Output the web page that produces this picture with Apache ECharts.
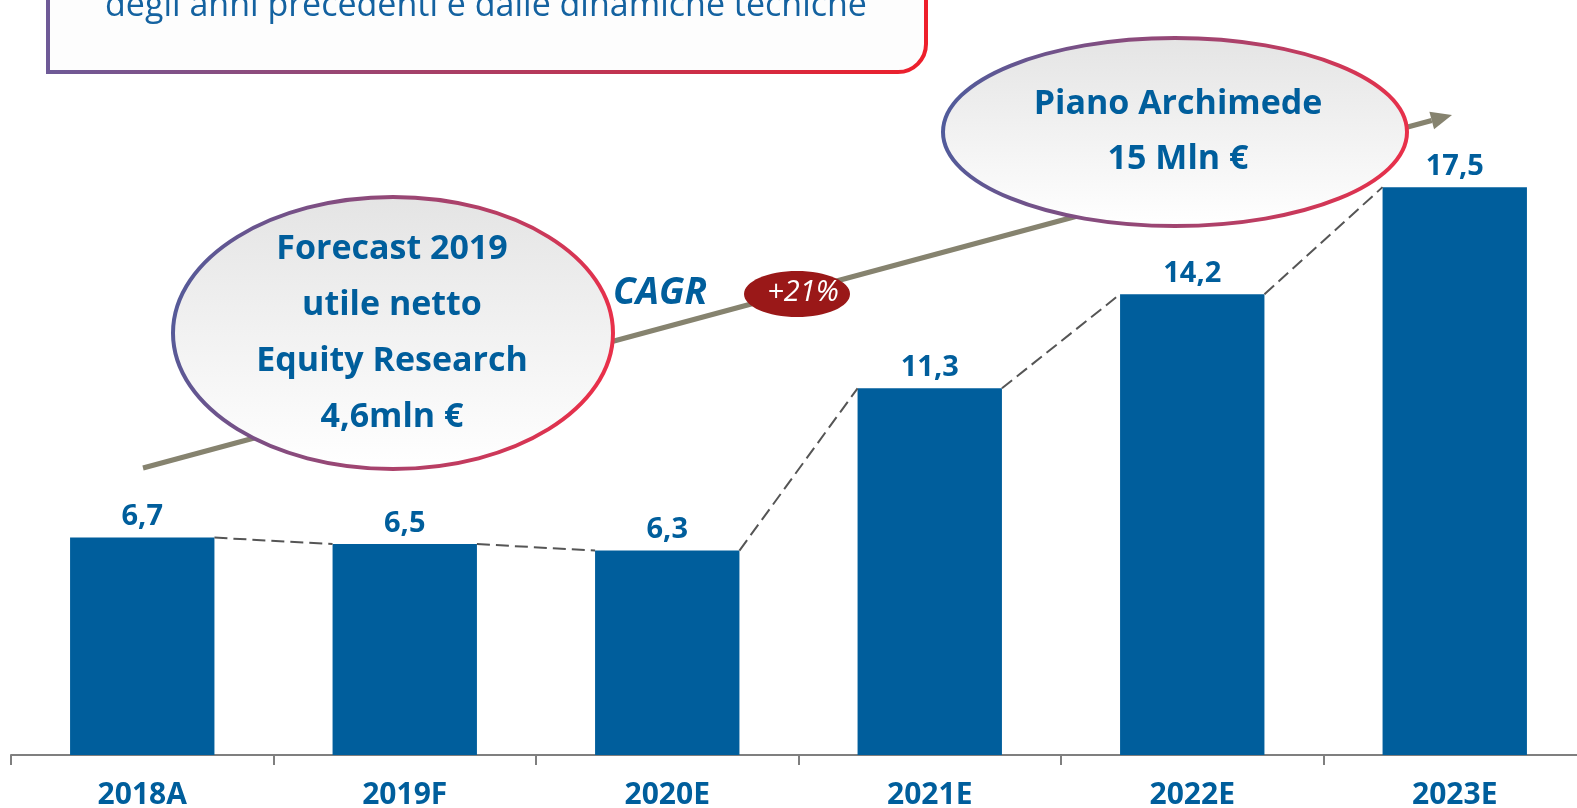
<!DOCTYPE html>
<html><head><meta charset="utf-8">
<script src="https://cdn.jsdelivr.net/npm/echarts@6/dist/echarts.min.js"></script>
<style>html,body{margin:0;padding:0;background:#fff}#c{width:1577px;height:808px}</style>
</head><body><div id="c"></div>
<script>
var categories = ['2018A','2019F','2020E','2021E','2022E','2023E'];
var values = [6.7, 6.5, 6.3, 11.3, 14.2, 17.5];
var valueLabels = ['6,7','6,5','6,3','11,3','14,2','17,5'];

var BLUE = '#005E9C';
var FONT = '"Open Sans","Noto Sans",sans-serif';

var links = [];
for (var i = 0; i < values.length - 1; i++) links.push([i, values[i], i + 1, values[i + 1]]);

var chart = echarts.init(document.getElementById('c'));
var barRatio = 0.55;

function lg(x2, y2, c1, c2) {
  return new echarts.graphic.LinearGradient(0, 0, x2, y2, [{offset: 0, color: c1}, {offset: 1, color: c2}]);
}

// arrow geometry (decoration)
var ax0 = 143, ay0 = 468, ax1 = 1452, ay1 = 115;
var dx = ax1 - ax0, dy = ay1 - ay0, L = Math.sqrt(dx*dx + dy*dy);
var ux = dx / L, uy = dy / L, nx = -uy, ny = ux;
var hl = 21, hw = 9;
var bx = ax1 - hl*ux, by = ay1 - hl*uy;

chart.setOption({
  animation: false,
  grid: {left: 11, width: 1575, top: 106, bottom: 53, outerBoundsMode: 'none', containLabel: false},
  xAxis: {
    type: 'category', data: categories,
    axisLine: {lineStyle: {color: '#7f7f7f', width: 2}},
    axisTick: {show: true, length: 10, lineStyle: {color: '#7f7f7f', width: 2}},
    axisLabel: {color: BLUE, fontWeight: 'bold', fontSize: 30, fontFamily: FONT, margin: 25}
  },
  yAxis: {type: 'value', min: 0, max: 20, show: false, splitLine: {show: false}},
  series: [
    {
      type: 'bar', data: values, barWidth: (barRatio*100) + '%',
      itemStyle: {color: BLUE},
      label: {
        show: true, position: 'top', distance: 6,
        color: BLUE, fontWeight: 'bold', fontSize: 29, fontFamily: FONT,
        formatter: function (p) { return valueLabels[p.dataIndex]; }
      },
      z: 2
    },
    {
      type: 'custom', data: links, z: 3,
      renderItem: function (params, api) {
        var p1 = api.coord([api.value(0), api.value(1)]);
        var p2 = api.coord([api.value(2), api.value(3)]);
        var half = api.size([1, 0])[0] * barRatio / 2;
        return {
          type: 'line',
          shape: {x1: p1[0] + half, y1: p1[1], x2: p2[0] - half, y2: p2[1]},
          style: {stroke: '#555555', lineWidth: 2, lineDash: [13, 6]}
        };
      }
    }
  ],
  graphic: [
    // top box
    {type: 'rect', z: 10, shape: {x: 48, y: -80, width: 878, height: 152, r: [0, 0, 28, 0]},
     style: {fill: '#fdfdfd', stroke: lg(1, 0, '#6e5a97', '#ee1f2b'), lineWidth: 4}},
    {type: 'text', z: 11, style: {text: 'degli anni precedenti e dalle dinamiche tecniche', x: 486, y: 6,
      fill: '#1462a0', font: '34px ' + FONT, textAlign: 'center', textVerticalAlign: 'middle'}},
    // arrow
    {type: 'line', z: 10, shape: {x1: ax0, y1: ay0, x2: bx, y2: by}, style: {stroke: '#86836f', lineWidth: 5}},
    {type: 'polygon', z: 10, shape: {points: [[ax1, ay1], [bx + hw*nx, by + hw*ny], [bx - hw*nx, by - hw*ny]]}, style: {fill: '#86836f'}},
    // ellipse 1
    {type: 'ellipse', z: 12, shape: {cx: 393, cy: 333, rx: 220, ry: 136},
     style: {fill: lg(0, 1, '#e4e4e4', '#ffffff'), stroke: lg(1, 0.4, '#4b5d9e', '#e8304a'), lineWidth: 4}},
    {type: 'text', z: 13, style: {text: 'Forecast 2019\nutile netto\nEquity Research\n4,6mln €', x: 392, y: 333,
      fill: BLUE, font: 'bold 34px ' + FONT, textAlign: 'center', textVerticalAlign: 'middle', lineHeight: 56}},
    // ellipse 2
    {type: 'ellipse', z: 12, shape: {cx: 1175, cy: 132, rx: 232, ry: 94},
     style: {fill: lg(0, 1, '#e4e4e4', '#ffffff'), stroke: lg(1, 0.4, '#4b5d9e', '#e8304a'), lineWidth: 4}},
    {type: 'text', z: 13, style: {text: 'Piano Archimede\n15 Mln €', x: 1178, y: 132,
      fill: BLUE, font: 'bold 34px ' + FONT, textAlign: 'center', textVerticalAlign: 'middle', lineHeight: 55}},
    // CAGR
    {type: 'text', z: 13, style: {text: 'CAGR', x: 660, y: 293,
      fill: BLUE, font: 'italic bold 37px ' + FONT, textAlign: 'center', textVerticalAlign: 'middle'}},
    {type: 'ellipse', z: 12, shape: {cx: 797, cy: 294, rx: 53, ry: 23}, style: {fill: '#9a1818'}},
    {type: 'text', z: 13, style: {text: '+21%', x: 803, y: 293,
      fill: '#ffffff', font: 'italic 29px ' + FONT, textAlign: 'center', textVerticalAlign: 'middle'}}
  ]
});
</script>
</body></html>
